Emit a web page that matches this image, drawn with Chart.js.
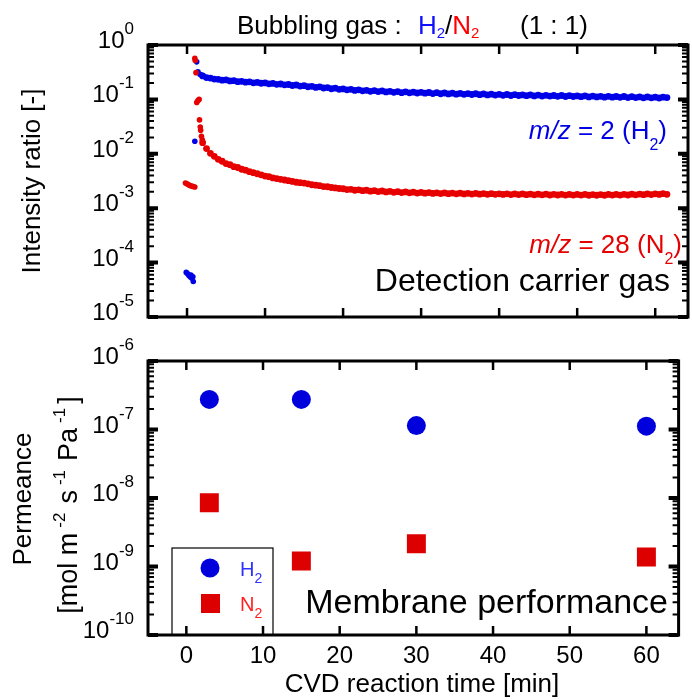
<!DOCTYPE html>
<html>
<head>
<meta charset="utf-8">
<script src="https://cdn.jsdelivr.net/npm/chart.js@4.4.1/dist/chart.umd.min.js"></script>
<style>
  html, body { margin: 0; padding: 0; background: #fff; }
  #wrap { position: relative; width: 692px; height: 700px; }
  #wrap canvas { position: absolute; left: 0; top: 0; }
</style>
</head>
<body>
<div id="wrap">
  <canvas id="ms" width="692" height="700"></canvas>
  <canvas id="perm" width="692" height="700"></canvas>
</div>
<script>
const FONT = '"Liberation Sans", Arial, Helvetica, sans-serif';
const BLUE = '#0000e6';
const RED = '#e60000';

// axis ticks
const timeTicks = [0, 10, 20, 30, 40, 50, 60];
const msDecades = [0, -1, -2, -3, -4, -5];
const permDecades = [-6, -7, -8, -9, -10];

// QMS intensity ratio, m/z = 2 (H2)
const h2Time = [
  -0.1, 0.1, 0.25, 0.4, 0.5, 0.6, 0.75, 0.8,
  1.0, 1.24, 1.4, 1.66, 1.85,
  2.0, 2.5, 3.0, 3.5, 4.0, 4.5, 5.0, 5.5, 6.0, 6.5, 7.0, 7.5, 8.0, 8.5, 9.0, 9.5,
  10.0, 10.5, 11.0, 11.5, 12.0, 12.5, 13.0, 13.5, 14.0, 14.5, 15.0, 15.5, 16.0, 16.5, 17.0, 17.5, 18.0, 18.5, 19.0, 19.5,
  20.0, 20.5, 21.0, 21.5, 22.0, 22.5, 23.0, 23.5, 24.0, 24.5, 25.0, 25.5, 26.0, 26.5, 27.0, 27.5, 28.0, 28.5, 29.0, 29.5,
  30.0, 30.5, 31.0, 31.5, 32.0, 32.5, 33.0, 33.5, 34.0, 34.5, 35.0, 35.5, 36.0, 36.5, 37.0, 37.5, 38.0, 38.5, 39.0, 39.5,
  40.0, 40.5, 41.0, 41.5, 42.0, 42.5, 43.0, 43.5, 44.0, 44.5, 45.0, 45.5, 46.0, 46.5, 47.0, 47.5, 48.0, 48.5, 49.0, 49.5,
  50.0, 50.5, 51.0, 51.5, 52.0, 52.5, 53.0, 53.5, 54.0, 54.5, 55.0, 55.5, 56.0, 56.5, 57.0, 57.5, 58.0, 58.5, 59.0, 59.5,
  60.0, 60.5, 61.0, 61.5
];
const h2Ratio = [
  6.6e-5, 6.2e-5, 5.8e-5, 5.5e-5, 5.9e-5, 5.2e-5, 5.5e-5, 4.5e-5,
  0.017, 0.49, 0.32, 0.29, 0.28,
  0.270, 0.252, 0.247, 0.236, 0.234, 0.226, 0.228, 0.219, 0.221, 0.212, 0.215, 0.207, 0.210, 0.202, 0.205, 0.198,
  0.201, 0.193, 0.197, 0.189, 0.192, 0.185, 0.188, 0.180, 0.184, 0.176, 0.179, 0.171, 0.174, 0.166, 0.170, 0.162, 0.165, 0.157, 0.161, 0.153,
  0.156, 0.150, 0.153, 0.146, 0.150, 0.144, 0.147, 0.141, 0.145, 0.139, 0.143, 0.137, 0.141, 0.135, 0.139, 0.133, 0.138, 0.132, 0.136, 0.131,
  0.135, 0.130, 0.134, 0.128, 0.133, 0.127, 0.131, 0.126, 0.130, 0.125, 0.129, 0.124, 0.128, 0.123, 0.127, 0.122, 0.126, 0.121, 0.125, 0.120,
  0.124, 0.119, 0.123, 0.118, 0.122, 0.118, 0.121, 0.117, 0.121, 0.116, 0.120, 0.115, 0.119, 0.115, 0.118, 0.114, 0.118, 0.113, 0.117, 0.113,
  0.116, 0.112, 0.116, 0.111, 0.115, 0.111, 0.114, 0.110, 0.114, 0.110, 0.113, 0.109, 0.113, 0.108, 0.112, 0.108, 0.111, 0.107, 0.111, 0.107,
  0.110, 0.106, 0.110, 0.108
];

// QMS intensity ratio, m/z = 28 (N2)
const n2Time = [
  -0.2, 0.0, 0.2, 0.4, 0.6, 0.8, 1.0,
  1.0, 1.05, 1.15, 1.25, 1.4, 1.55, 1.6, 1.7, 1.75, 1.85, 1.95,
  2.0, 2.5, 3.0, 3.5, 4.0, 4.5, 5.0, 5.5, 6.0, 6.5, 7.0, 7.5, 8.0, 8.5, 9.0, 9.5,
  10.0, 10.5, 11.0, 11.5, 12.0, 12.5, 13.0, 13.5, 14.0, 14.5, 15.0, 15.5, 16.0, 16.5, 17.0, 17.5, 18.0, 18.5, 19.0, 19.5,
  20.0, 20.5, 21.0, 21.5, 22.0, 22.5, 23.0, 23.5, 24.0, 24.5, 25.0, 25.5, 26.0, 26.5, 27.0, 27.5, 28.0, 28.5, 29.0, 29.5,
  30.0, 30.5, 31.0, 31.5, 32.0, 32.5, 33.0, 33.5, 34.0, 34.5, 35.0, 35.5, 36.0, 36.5, 37.0, 37.5, 38.0, 38.5, 39.0, 39.5,
  40.0, 40.5, 41.0, 41.5, 42.0, 42.5, 43.0, 43.5, 44.0, 44.5, 45.0, 45.5, 46.0, 46.5, 47.0, 47.5, 48.0, 48.5, 49.0, 49.5,
  50.0, 50.5, 51.0, 51.5, 52.0, 52.5, 53.0, 53.5, 54.0, 54.5, 55.0, 55.5, 56.0, 56.5, 57.0, 57.5, 58.0, 58.5, 59.0, 59.5,
  60.0, 60.5, 61.0, 61.5
];
const n2Ratio = [
  2.9e-3, 2.8e-3, 2.7e-3, 2.6e-3, 2.55e-3, 2.5e-3, 2.45e-3,
  0.57, 0.52, 0.31, 0.088, 0.095, 0.10, 0.042, 0.031, 0.027, 0.021, 0.018,
  0.0160, 0.0125, 0.0102, 0.0090, 0.0079, 0.0073, 0.0066, 0.0063, 0.0058, 0.0056, 0.0052, 0.0050, 0.0047, 0.0045, 0.0043, 0.0041,
  0.0039, 0.0038, 0.0036, 0.0035, 0.0034, 0.0033, 0.0032, 0.0031, 0.0030, 0.00295, 0.0029, 0.0028, 0.0027, 0.00265, 0.0026, 0.0025, 0.00248, 0.0024, 0.00236, 0.0023,
  0.00228, 0.0022, 0.00222, 0.00214, 0.00218, 0.0021, 0.00214, 0.00206, 0.0021, 0.00202, 0.00207, 0.00199, 0.00204, 0.00196, 0.00201, 0.00194, 0.00199, 0.00192, 0.00197, 0.0019,
  0.00195, 0.00189, 0.00194, 0.00187, 0.00192, 0.00186, 0.00191, 0.00185, 0.0019, 0.00184, 0.00189, 0.00183, 0.00188, 0.00182, 0.00187, 0.00181, 0.00186, 0.0018, 0.00185, 0.0018,
  0.00184, 0.00179, 0.00184, 0.00178, 0.00183, 0.00178, 0.00183, 0.00177, 0.00182, 0.00176, 0.00181, 0.00176, 0.00181, 0.00175, 0.0018, 0.00175, 0.0018, 0.00174, 0.00179, 0.00174,
  0.00179, 0.00174, 0.00179, 0.00173, 0.00178, 0.00173, 0.00178, 0.00173, 0.00179, 0.00174, 0.00179, 0.00174, 0.0018, 0.00175, 0.00181, 0.00176, 0.00182, 0.00177, 0.00183, 0.00178,
  0.00184, 0.00179, 0.00185, 0.0018
];

// membrane permeance after each CVD time
const cvdTime = [3, 15, 30, 60];
const h2Perm = [2.75e-7, 2.75e-7, 1.14e-7, 1.12e-7];
const n2Perm = [8.5e-9, 1.2e-9, 2.15e-9, 1.38e-9];

const toPoints = (xs, ys) => xs.map((x, i) => ({ x, y: ys[i] }));

// draw a run of text pieces (sub/superscripts, colours, italics, gaps)
function drawRuns(ctx, parts, x, y, align) {
  let total = 0;
  const measured = parts.map(p => {
    const font = (p.italic ? 'italic ' : '') + p.size + 'px ' + FONT;
    ctx.font = font;
    const w = ctx.measureText(p.t).width + (p.gap || 0);
    total += w;
    return { ...p, font, w };
  });
  let cx = x;
  if (align === 'right') cx = x - total;
  else if (align === 'center') cx = x - total / 2;
  ctx.textAlign = 'left';
  ctx.textBaseline = 'alphabetic';
  for (const p of measured) {
    ctx.font = p.font;
    ctx.fillStyle = p.color || '#000';
    ctx.fillText(p.t, cx, y + (p.dy || 0));
    cx += p.w;
  }
}

function drawPow(ctx, exp, xRight, yTick) {
  drawRuns(ctx, [
    { t: '10', size: 24 },
    { t: String(exp), size: 17, dy: -14 }
  ], xRight, yTick + 3, 'right');
}

function frameAndTicks(decades) {
  return {
    id: 'frameAndTicks',
    afterDatasetsDraw(chart) {
      const { ctx, chartArea: a, scales: { x, y } } = chart;
      ctx.save();
      ctx.strokeStyle = '#000';
      ctx.lineCap = 'butt';
      ctx.lineWidth = 2.5;
      ctx.beginPath();
      for (const t of timeTicks) {
        const px = x.getPixelForValue(t);
        ctx.moveTo(px, a.bottom); ctx.lineTo(px, a.bottom - 9);
        ctx.moveTo(px, a.top); ctx.lineTo(px, a.top + 9);
      }
      ctx.stroke();
      ctx.lineWidth = 4;
      ctx.beginPath();
      for (const d of decades) {
        const py = y.getPixelForValue(Math.pow(10, d));
        ctx.moveTo(a.left, py); ctx.lineTo(a.left + 10, py);
        ctx.moveTo(a.right, py); ctx.lineTo(a.right - 10, py);
      }
      ctx.stroke();
      ctx.lineWidth = 2;
      ctx.beginPath();
      for (const d of decades.slice(0, -1)) {
        for (let m = 2; m <= 9; m++) {
          const py = y.getPixelForValue(m * Math.pow(10, d - 1));
          ctx.moveTo(a.left, py); ctx.lineTo(a.left + 6, py);
          ctx.moveTo(a.right, py); ctx.lineTo(a.right - 6, py);
        }
      }
      ctx.stroke();
      ctx.lineWidth = 3;
      ctx.strokeRect(a.left, a.top, a.right - a.left, a.bottom - a.top);
      ctx.restore();
    }
  };
}

const hiddenScales = (yMin, yMax) => ({
  x: { type: 'linear', min: -5, max: 64.2, display: false },
  y: { type: 'logarithmic', min: yMin, max: yMax, display: false }
});

const baseOptions = {
  responsive: false,
  animation: false,
  events: [],
  plugins: { legend: { display: false }, tooltip: { enabled: false } }
};

// steady-state readings are logged densely, so they merge into a band
const msRadius = c => (c.raw && c.raw.x >= 2 ? 3.4 : 2.8);

// upper panel: detection carrier gas
new Chart(document.getElementById('ms'), {
  type: 'scatter',
  data: {
    datasets: [
      { label: 'm/z = 28 (N2)', data: toPoints(n2Time, n2Ratio), pointRadius: msRadius, pointBorderWidth: 0, backgroundColor: RED, borderColor: RED },
      { label: 'm/z = 2 (H2)', data: toPoints(h2Time, h2Ratio), pointRadius: msRadius, pointBorderWidth: 0, backgroundColor: BLUE, borderColor: BLUE }
    ]
  },
  options: {
    ...baseOptions,
    layout: { padding: { left: 148, right: 2, top: 45, bottom: 383 } },
    scales: hiddenScales(1e-5, 1)
  },
  plugins: [frameAndTicks(msDecades), {
    id: 'msText',
    afterDraw(chart) {
      const { ctx, chartArea: a, scales: { y } } = chart;
      ctx.save();
      for (const d of msDecades) drawPow(ctx, d, 134, y.getPixelForValue(Math.pow(10, d)));
      // title
      drawRuns(ctx, [{ t: 'Bubbling gas :', size: 26 }], 237, 34, 'left');
      drawRuns(ctx, [
        { t: 'H', size: 26, color: '#1010ff' },
        { t: '2', size: 15, dy: 4, color: '#1010ff' },
        { t: '/', size: 26 },
        { t: 'N', size: 26, color: '#ff0000' },
        { t: '2', size: 15, dy: 4, color: '#ff0000' }
      ], 418, 34, 'left');
      drawRuns(ctx, [{ t: '(1 : 1)', size: 26 }], 520, 34, 'left');
      // series labels
      drawRuns(ctx, [
        { t: 'm/z', size: 26, italic: true, color: BLUE },
        { t: ' = 2 (H', size: 26, color: BLUE },
        { t: '2', size: 16, dy: 11, color: BLUE },
        { t: ')', size: 26, color: BLUE }
      ], 667, 139, 'right');
      drawRuns(ctx, [
        { t: 'm/z', size: 26, italic: true, color: RED },
        { t: ' = 28 (N', size: 26, color: RED },
        { t: '2', size: 16, dy: 11, color: RED },
        { t: ')', size: 26, color: RED }
      ], 682, 253, 'right');
      drawRuns(ctx, [{ t: 'Detection carrier gas', size: 32 }], 670, 291, 'right');
      // y title
      ctx.translate(40, (a.top + a.bottom) / 2);
      ctx.rotate(-Math.PI / 2);
      drawRuns(ctx, [{ t: 'Intensity ratio [-]', size: 26 }], 0, 0, 'center');
      ctx.restore();
    }
  }]
});

// lower panel: membrane performance
new Chart(document.getElementById('perm'), {
  type: 'scatter',
  data: {
    datasets: [
      { label: 'H2', data: toPoints(cvdTime, h2Perm), pointStyle: 'circle', pointRadius: 9.5, pointBorderWidth: 0, backgroundColor: '#0000dd', borderColor: '#0000dd' },
      { label: 'N2', data: toPoints(cvdTime, n2Perm), pointStyle: 'rect', pointRadius: 13.4, pointBorderWidth: 0, backgroundColor: '#dd0000', borderColor: '#dd0000' }
    ]
  },
  options: {
    ...baseOptions,
    layout: { padding: { left: 148, right: 2, top: 361, bottom: 65 } },
    scales: hiddenScales(1e-10, 1e-6)
  },
  plugins: [frameAndTicks(permDecades), {
    id: 'permText',
    afterDraw(chart) {
      const { ctx, chartArea: a, scales: { x, y } } = chart;
      ctx.save();
      for (const d of permDecades) drawPow(ctx, d, 134, y.getPixelForValue(Math.pow(10, d)));
      for (const t of timeTicks) drawRuns(ctx, [{ t: String(t), size: 24 }], x.getPixelForValue(t), 663, 'center');
      drawRuns(ctx, [{ t: 'CVD reaction time [min]', size: 26 }], 422, 692, 'center');
      drawRuns(ctx, [{ t: 'Membrane performance', size: 34 }], 668, 613, 'right');

      // legend
      const lx = 172, ly = 548;
      ctx.lineWidth = 1.2;
      ctx.strokeStyle = '#000';
      ctx.strokeRect(lx, ly, 101, a.bottom - ly);
      ctx.fillStyle = '#0000dd';
      ctx.beginPath(); ctx.arc(210, 568, 9.5, 0, Math.PI * 2); ctx.fill();
      ctx.fillStyle = '#dd0000';
      ctx.fillRect(201, 594, 19, 19);
      drawRuns(ctx, [{ t: 'H', size: 20, color: '#3030ff' }, { t: '2', size: 14, dy: 7, color: '#3030ff' }], 240, 576, 'left');
      drawRuns(ctx, [{ t: 'N', size: 20, color: '#ff2020' }, { t: '2', size: 14, dy: 7, color: '#ff2020' }], 240, 611, 'left');

      // y title (two lines)
      ctx.save();
      ctx.translate(31, 499);
      ctx.rotate(-Math.PI / 2);
      drawRuns(ctx, [{ t: 'Permeance', size: 26 }], 0, 0, 'center');
      ctx.restore();
      ctx.save();
      ctx.translate(77, 505);
      ctx.rotate(-Math.PI / 2);
      drawRuns(ctx, [
        { t: '[mol m', size: 27, gap: 5 },
        { t: '-2', size: 17, dy: -12, gap: 9 },
        { t: 's', size: 27, gap: 5 },
        { t: '-1', size: 17, dy: -12, gap: 9 },
        { t: 'Pa', size: 27, gap: 5 },
        { t: '-1', size: 17, dy: -12, gap: 4 },
        { t: ']', size: 27 }
      ], 0, 0, 'center');
      ctx.restore();
      ctx.restore();
    }
  }]
});
</script>
</body>
</html>
